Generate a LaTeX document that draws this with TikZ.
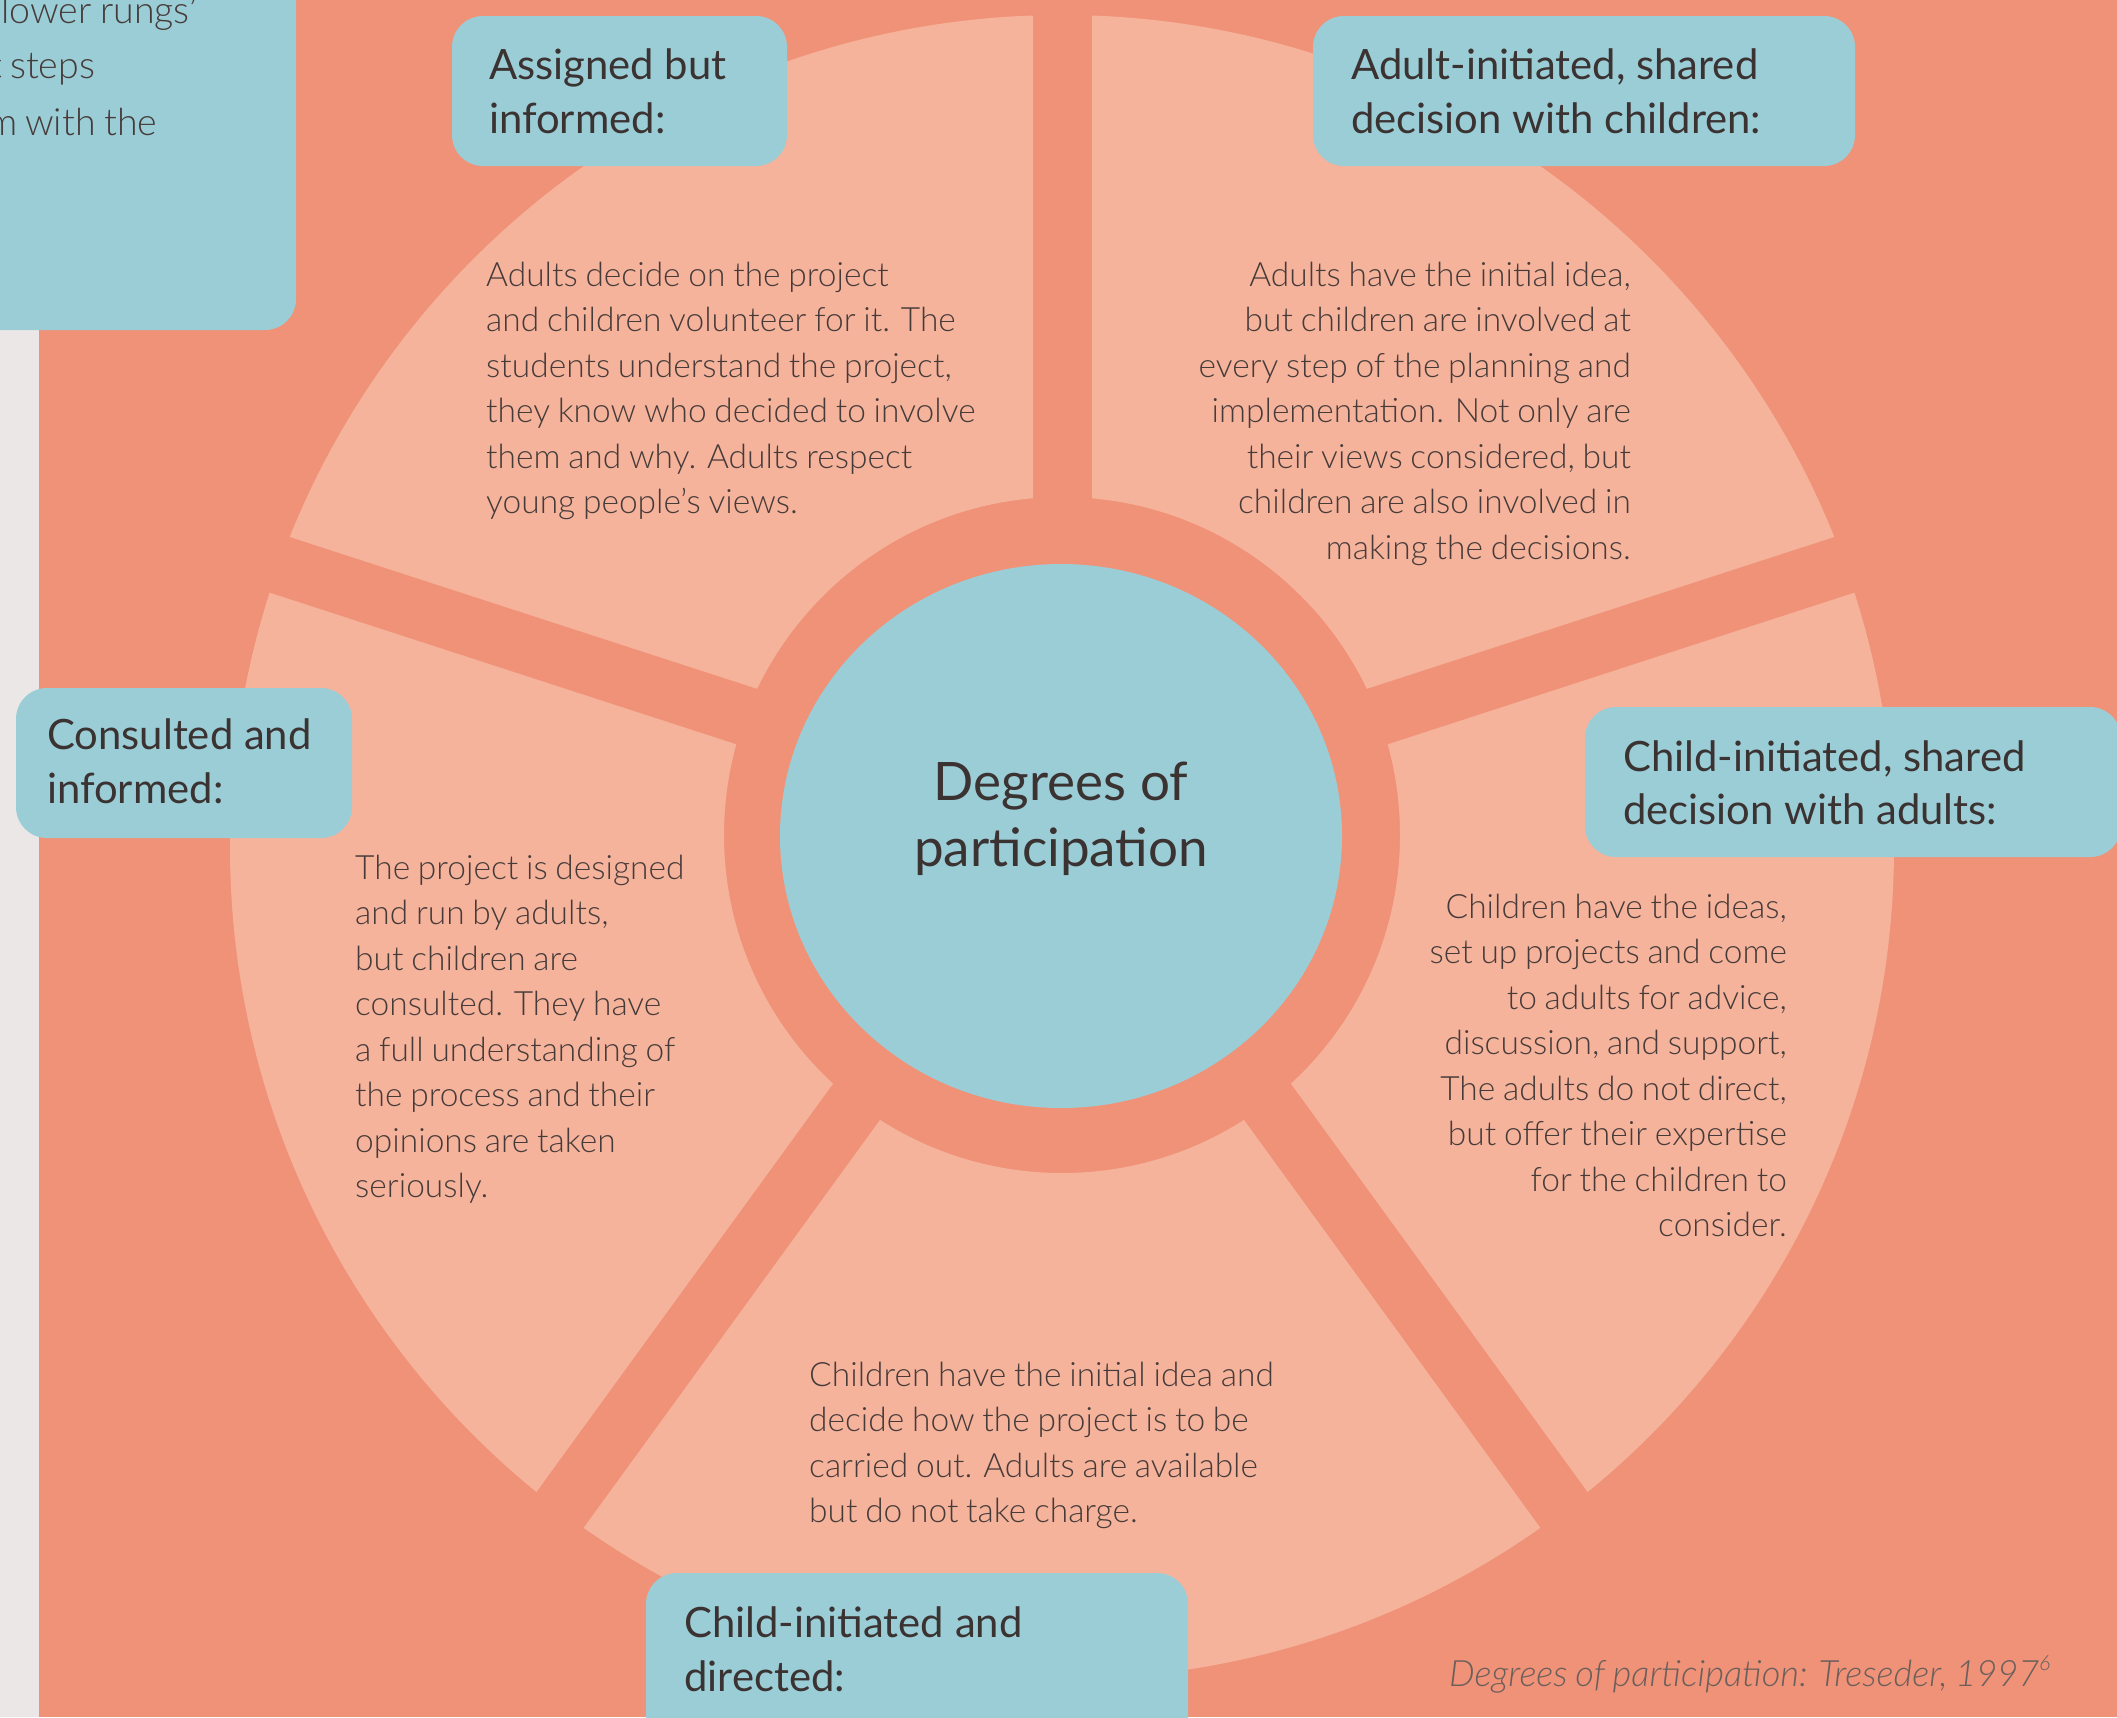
\documentclass[tikz,border=0pt]{standalone}
\usepackage{fontspec}
\setmainfont{Lato}
\newfontfamily\lightfont{Lato Light}[WordSpace=0.85]
\newfontfamily\headfont{Lato}
\definecolor{bgsalmon}{HTML}{F09278}
\definecolor{seg}{HTML}{F5B39C}
\definecolor{boxblue}{HTML}{9BCDD7}
\definecolor{strip}{HTML}{EBE7E6}
\definecolor{ink}{HTML}{3B3232}
\definecolor{bodyink}{HTML}{463B39}
\definecolor{capink}{HTML}{6B5F5B}
\tikzset{
  bodytxt/.style={font=\lightfont\fontsize{33.5}{45.5}\selectfont, text=bodyink, inner sep=0pt},
  headtxt/.style={font=\headfont\fontsize{41.8}{54}\selectfont, text=ink, inner sep=0pt},
  hubtxt/.style={font=\headfont\fontsize{53}{66}\selectfont, text=ink, inner sep=0pt},
  toptxt/.style={font=\lightfont\fontsize{37.5}{56}\selectfont, text=bodyink, inner sep=0pt},
  captxt/.style={font=\lightfont\itshape\fontsize{36.3}{40}\selectfont, text=capink, inner sep=0pt},
  bluebox/.style={fill=boxblue, rounded corners=31pt},
}
\begin{document}
\begin{tikzpicture}[x=1pt, y=-1pt]
\useasboundingbox (0,0) rectangle (2117,1717);
\clip (0,0) rectangle (2117,1717);
% background
\fill[bgsalmon] (0,0) rectangle (2117,1717);
\fill[strip] (0,0) rectangle (39,1717);
% wheel
\coordinate (rayc) at (1062,819);
\fill[seg, even odd rule] (1062,847) circle[radius=832] (1062,835) circle[radius=338];
\foreach \a in {90,162,234,306,18}
  \draw[bgsalmon, line width=59pt] (rayc) -- ++(-\a:900);
\fill[boxblue] (1061,836) ellipse[x radius=281, y radius=272];
\coordinate (hub) at (1061,836);
\node[hubtxt, anchor=base] (hub1) at (1061,800) {Degrees of};
\node[hubtxt, anchor=base] (hub2) at (1061,866) {participation};

% top-left box
\fill[bluebox] (-80,-80) rectangle (296,330);
\node[toptxt, anchor=base west] (tl1) at (1,23) {lower rungs’};
\node[toptxt, anchor=base west] (tl2) at (10,78) {\llap{t\kern0.2em}steps};
\node[toptxt, anchor=base west] (tl3) at (25,135) {\llap{m\kern0.2em}with the};

% body paragraphs
\foreach \ln [count=\i] in {{Adults decide on the project},{and children volunteer for it. The},{students understand the project,},{they know who decided to involve},{them and why. Adults respect},{young people’s views.}}
  \node[bodytxt, anchor=base west] (asg-\i) at (486,{286+45.5*(\i-1)}) {\ln};

\foreach \ln [count=\i] in {{Adults have the initial idea,},{but children are involved at},{every step of the planning and},{implementation. Not only are},{their views considered, but},{children are also involved in},{making the decisions.}}
  \node[bodytxt, anchor=base east] (adi-\i) at (1631,{286+45.5*(\i-1)}) {\ln};

\foreach \ln [count=\i] in {{The project is designed},{and run by adults,},{but children are},{consulted. They have},{a full understanding of},{the process and their},{opinions are taken},{seriously.}}
  \node[bodytxt, anchor=base west] (con-\i) at (355,{879+45.5*(\i-1)}) {\ln};

\foreach \ln [count=\i] in {{Children have the ideas,},{set up projects and come},{to adults for advice,},{discussion, and support,},{The adults do not direct,},{but offer their expertise},{for the children to},{consider.}}
  \node[bodytxt, anchor=base east] (cis-\i) at (1787,{918+45.5*(\i-1)}) {\ln};

\foreach \ln [count=\i] in {{Children have the initial idea and},{decide how the project is to be},{carried out. Adults are available},{but do not take charge.}}
  \node[bodytxt, anchor=base west] (cid-\i) at (809,{1386+45.5*(\i-1)}) {\ln};

% heading boxes
\fill[bluebox] (452,16) rectangle (787,166);
\node[headtxt, anchor=base west] (h1a) at (489,79) {Assigned but};
\node[headtxt, anchor=base west] (h1b) at (489,133) {informed:};

\fill[bluebox] (1313,16) rectangle (1855,166);
\node[headtxt, anchor=base west] (h2a) at (1351,79) {Adult-initiated, shared};
\node[headtxt, anchor=base west] (h2b) at (1351,133) {decision with children:};

\fill[bluebox] (16,688) rectangle (352,838);
\node[headtxt, anchor=base west] (h3a) at (47,749) {Consulted and};
\node[headtxt, anchor=base west] (h3b) at (47,803) {informed:};

\fill[bluebox] (1585,707) rectangle (2121,857);
\node[headtxt, anchor=base west] (h4a) at (1623,771) {Child-initiated, shared};
\node[headtxt, anchor=base west] (h4b) at (1623,824) {decision with adults:};

\fill[bluebox] (646,1573) rectangle (1188,1760);
\node[headtxt, anchor=base west] (h5a) at (684,1637) {Child-initiated and};
\node[headtxt, anchor=base west] (h5b) at (684,1691) {directed:};

% caption
\node[captxt, anchor=base west] (cap) at (1449,1686) {Degrees of participation: Treseder, 1997\raisebox{0.42em}{\fontsize{21}{22}\selectfont 6}};
\end{tikzpicture}
\end{document}
